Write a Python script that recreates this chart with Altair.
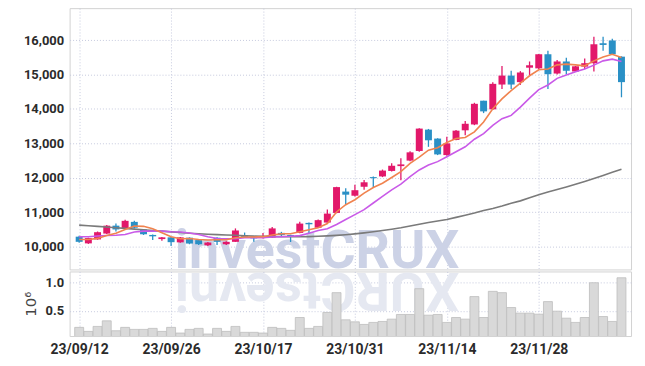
import json
import altair as alt
import pandas as pd

# ---------------- data ----------------
dates = ["23/09/12", "23/09/13", "23/09/14", "23/09/15", "23/09/18", "23/09/19", "23/09/20", "23/09/21",
         "23/09/22", "23/09/25", "23/09/26", "23/09/27", "23/10/04", "23/10/05", "23/10/06", "23/10/10",
         "23/10/11", "23/10/12", "23/10/13", "23/10/16", "23/10/17", "23/10/18", "23/10/19", "23/10/20",
         "23/10/23", "23/10/24", "23/10/25", "23/10/26", "23/10/27", "23/10/30", "23/10/31", "23/11/01",
         "23/11/02", "23/11/03", "23/11/06", "23/11/07", "23/11/08", "23/11/09", "23/11/10", "23/11/13",
         "23/11/14", "23/11/15", "23/11/16", "23/11/17", "23/11/20", "23/11/21", "23/11/22", "23/11/23",
         "23/11/24", "23/11/27", "23/11/28", "23/11/29", "23/11/30", "23/12/01", "23/12/04", "23/12/05",
         "23/12/06", "23/12/07", "23/12/08", "23/12/11"]

opens = [10290, 10095, 10210, 10380, 10610, 10540, 10720, 10500, 10340, 10220,
         10270, 10125, 10260, 10190, 10040, 10260, 10070, 10140, 10330, 10300,
         10260, 10260, 10400, 10340, 10400, 10690, 10550, 10700, 10980, 11600,
         11480, 11740, 12020, 12040, 12200, 12340, 12500, 12780, 13400, 13140,
         12660, 13100, 13380, 13550, 14240, 13990, 14710, 14970, 14780, 15200,
         15180, 15590, 15030, 15380, 15090, 15230, 15330, 15910, 15990, 15520]
closes = [10140, 10250, 10420, 10610, 10500, 10750, 10550, 10360, 10300, 10270,
          10130, 10270, 10090, 10070, 10120, 10140, 10140, 10470, 10280, 10240,
          10300, 10530, 10340, 10290, 10670, 10650, 10770, 10960, 11730, 11510,
          11640, 11870, 11990, 12210, 12350, 12390, 12740, 13430, 13090, 12680,
          13000, 13370, 13570, 14150, 13930, 14730, 14970, 14710, 15060, 15270,
          15590, 15010, 15380, 15110, 15240, 15330, 15880, 15860, 15590, 14780]
highs = [10320, 10260, 10440, 10630, 10670, 10780, 10750, 10510, 10350, 10280,
         10280, 10280, 10270, 10200, 10135, 10270, 10155, 10530, 10410, 10310,
         10400, 10570, 10430, 10345, 10720, 10700, 10790, 11080, 11740, 11700,
         11800, 11940, 12040, 12240, 12420, 12570, 12770, 13440, 13420, 13150,
         13190, 13390, 13650, 14180, 14240, 14780, 15250, 15110, 15100, 15380,
         15600, 15690, 15420, 15490, 15250, 15470, 16100, 16100, 16040, 15530]
lows = [10110, 10080, 10200, 10370, 10440, 10530, 10530, 10340, 10190, 10170,
        10020, 10110, 10070, 10050, 10020, 10050, 10050, 10140, 10260, 10140,
        10240, 10250, 10280, 10135, 10390, 10400, 10540, 10690, 10970, 11220,
        11460, 11650, 11720, 12020, 12180, 11930, 12480, 12760, 12900, 12660,
        12640, 13090, 13240, 13530, 13880, 13970, 14580, 14580, 14700, 14970,
        15160, 14580, 15000, 15010, 15080, 15160, 15090, 15690, 15580, 14340]

ma5 = [10210, 10210, 10240, 10326, 10390, 10500, 10600, 10590, 10519, 10403,
       10288, 10230, 10235, 10210, 10193, 10200, 10200, 10260, 10280, 10280,
       10290, 10337, 10375, 10375, 10432, 10490, 10548, 10670, 11008, 11219,
       11363, 11556, 11720, 11844, 12009, 12182, 12421, 12600, 12804, 12873,
       13026, 13141, 13170, 13334, 13622, 14006, 14294, 14533, 14750, 14965,
       15138, 15159, 15282, 15303, 15282, 15254, 15398, 15513, 15591, 15495]
ma20 = [10288, 10288, 10308, 10326, 10330, 10355, 10424, 10452, 10455, 10452,
        10433, 10424, 10395, 10355, 10288, 10239, 10230, 10230, 10260, 10260,
        10260, 10280, 10288, 10300, 10320, 10390, 10470, 10519, 10643, 10787,
        10931, 11075, 11268, 11461, 11651, 11816, 12037, 12228, 12372, 12470,
        12614, 12758, 12902, 13121, 13285, 13525, 13718, 13813, 14055, 14314,
        14562, 14697, 14890, 14986, 15081, 15159, 15274, 15398, 15447, 15380]
ma60 = [10625, 10605, 10590, 10570, 10550, 10530, 10510, 10490, 10470, 10450,
        10430, 10410, 10390, 10375, 10360, 10350, 10340, 10330, 10315, 10305,
        10300, 10295, 10290, 10288, 10288, 10292, 10300, 10312, 10328, 10348,
        10372, 10400, 10432, 10468, 10508, 10550, 10600, 10650, 10700, 10745,
        10790, 10850, 10910, 10975, 11050, 11110, 11180, 11260, 11330, 11420,
        11510, 11585, 11660, 11735, 11815, 11895, 11980, 12070, 12160, 12250]

volume = [0.208, 0.137, 0.225, 0.324, 0.148, 0.208, 0.172, 0.172, 0.19, 0.137,
          0.208, 0.107, 0.172, 0.19, 0.09, 0.19, 0.137, 0.225, 0.12, 0.12,
          0.107, 0.208, 0.19, 0.155, 0.383, 0.19, 0.225, 0.472, 0.824, 0.342,
          0.306, 0.26, 0.296, 0.313, 0.354, 0.437, 0.437, 0.894, 0.424, 0.437,
          0.296, 0.383, 0.354, 0.754, 0.383, 0.847, 0.824, 0.56, 0.46, 0.46,
          0.442, 0.665, 0.495, 0.371, 0.296, 0.383, 1.0, 0.40, 0.313, 1.088]

tick_idx = [0, 10, 20, 30, 40, 50]
price_ticks = [10000, 11000, 12000, 13000, 14000, 15000, 16000]
vol_ticks = [0.5, 1.0]
ma_names = ["MA60", "MA20", "MA5"]
ma_colors = ["#7a7a7a", "#c95ae8", "#f0834f"]
dir_names = ["up", "down"]
dir_colors = ["#e2186a", "#2a90c6"]

# ---------------- frames ----------------
n = len(dates)
idx = list(range(n))
df = pd.DataFrame({"idx": idx, "date": dates, "open": opens, "close": closes,
                   "high": highs, "low": lows, "vol": volume})
df["dir"] = ["up" if c >= o else "down" for o, c in zip(opens, closes)]

ma_df = pd.DataFrame({"idx": idx, "MA60": ma60, "MA20": ma20, "MA5": ma5})

label_expr = json.dumps(dates) + "[datum.value]"
FONT = "Roboto"
W = 565

x_price = alt.X("idx:Q", scale=alt.Scale(domain=[-0.5, n - 0.5], nice=False, zero=False),
                axis=alt.Axis(values=tick_idx, labels=False, ticks=False, domain=False,
                              grid=True, title=None))
x_vol = alt.X("idx:Q", scale=alt.Scale(domain=[-0.5, n - 0.5], nice=False, zero=False),
              axis=alt.Axis(values=tick_idx, labelExpr=label_expr, ticks=False, domain=False,
                            grid=True, title=None, labelFontSize=14, labelPadding=7,
                            labelColor="#2b2b2b"))

y_price_scale = alt.Scale(domain=[9337, 16930], nice=False, zero=False)
y_price_axis = alt.Axis(values=price_ticks, format=",d", title=None, ticks=False,
                        domain=False, labelPadding=6)

dir_color = alt.Color("dir:N", scale=alt.Scale(domain=dir_names, range=dir_colors), legend=None)

watermark = alt.Chart(pd.DataFrame({"t": ["investCRUX"]})).mark_text(
    font="Roboto", fontWeight="bold", fontSize=54, fill="#ccd2e6",
    align="center", baseline="alphabetic", clip=True
).encode(text="t:N", x=alt.value(249), y=alt.value(262))

ma_layers = []
for name, col in zip(ma_names, ma_colors):
    ma_layers.append(
        alt.Chart(ma_df).mark_line(strokeWidth=1.6, color=col).encode(
            x=x_price,
            y=alt.Y(f"{name}:Q", scale=y_price_scale, axis=y_price_axis),
        )
    )

wicks = alt.Chart(df).mark_rule(strokeWidth=1.3).encode(
    x=x_price,
    y=alt.Y("low:Q", scale=y_price_scale, axis=y_price_axis),
    y2="high:Q",
    color=dir_color,
)

bodies = alt.Chart(df).mark_bar(size=7).encode(
    x=x_price,
    y=alt.Y("open:Q", scale=y_price_scale, axis=y_price_axis),
    y2="close:Q",
    color=dir_color,
)

price = alt.layer(watermark, wicks, bodies, *ma_layers).properties(width=W, height=263)

reflection = alt.Chart(pd.DataFrame({"t": ["XURCtsevni"]})).mark_text(
    font="Roboto", fontWeight="bold", fontSize=54, fill="#e5e8f1", angle=180,
    align="center", baseline="alphabetic", clip=True
).encode(text="t:N", x=alt.value(249), y=alt.value(2))

vol_bars = alt.Chart(df).mark_bar(size=9, fill="#d9d9d9", stroke="#bdbdbd",
                                  strokeWidth=0.8, clip=True).encode(
    x=x_vol,
    y=alt.Y("vol:Q", scale=alt.Scale(domain=[0.054, 1.2], nice=False, zero=False),
            axis=alt.Axis(values=vol_ticks, format=".1f", title="10⁶", ticks=False,
                          domain=False, labelPadding=6, titlePadding=7,
                          titleFontWeight="normal", titleFontSize=15,
                          titleColor="#444444", titleFont="DejaVu Sans")),
)

vol = alt.layer(reflection, vol_bars).properties(width=W, height=65)

chart = alt.vconcat(price, vol, spacing=0).properties(
    padding={"left": 14, "top": -2, "right": 5, "bottom": 5}
).configure_view(
    stroke="#d2d2d2", strokeWidth=1
).configure_axis(
    labelFont=FONT, labelFontSize=13, labelFontWeight="bold", labelColor="#2b2b2b",
    gridColor="#c6cade", gridDash=[1, 2], gridWidth=1,
    titleFont=FONT,
)

chart.save("out.html", embed_options={"renderer": "svg", "actions": False})
